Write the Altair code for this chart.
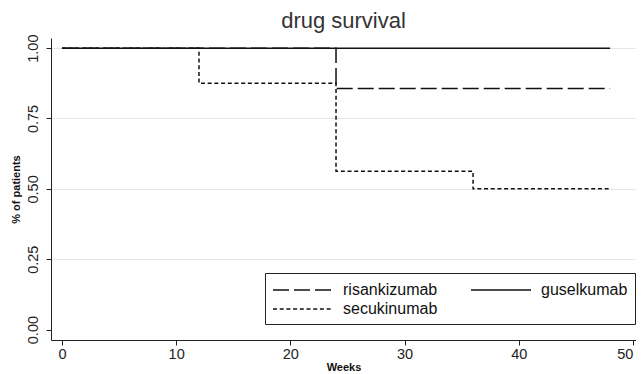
import altair as alt
import pandas as pd

# legend/entry order (column-major fill: col 1 = risankizumab, secukinumab; col 2 = guselkumab)
drug_order = ["risankizumab", "secukinumab", "guselkumab"]
dash_styles = [[16, 5], [4, 2.7], [1, 0]]

risankizumab_weeks = [0, 24, 48]
risankizumab_surv = [1.0, 0.857, 0.857]
guselkumab_weeks = [0, 48]
guselkumab_surv = [1.0, 1.0]
secukinumab_weeks = [0, 12, 24, 36, 48]
secukinumab_surv = [1.0, 0.875, 0.5625, 0.5, 0.5]

x_ticks = [0, 10, 20, 30, 40, 50]
y_ticks = [0, 0.25, 0.5, 0.75, 1.0]

rows = []
for name, wk, sv in [
    ("risankizumab", risankizumab_weeks, risankizumab_surv),
    ("guselkumab", guselkumab_weeks, guselkumab_surv),
    ("secukinumab", secukinumab_weeks, secukinumab_surv),
]:
    for w, s in zip(wk, sv):
        rows.append({"drug": name, "week": w, "surv": s})
df = pd.DataFrame(rows)

FONT = "Liberation Sans"

chart = alt.Chart(df).mark_line(
    interpolate="step-after", color="#111111", strokeWidth=1.5
).encode(
    x=alt.X("week:Q",
            scale=alt.Scale(domain=[-0.96, 50.27], nice=False, zero=False),
            axis=alt.Axis(values=x_ticks, title="Weeks", grid=False,
                          titleFontWeight="bold", titleFontSize=11,
                          titlePadding=1,
                          labelAlign={"condition": {"test": "datum.value === 50",
                                                    "value": "right"},
                                      "value": "center"})),
    y=alt.Y("surv:Q",
            scale=alt.Scale(domain=[-0.037, 1.036], nice=False, zero=False),
            axis=alt.Axis(values=y_ticks, format=".2f", title="% of patients",
                          titleFontWeight="bold", titleFontSize=11,
                          labelAngle=270, labelAlign="center",
                          labelBaseline="bottom", labelPadding=6,
                          titlePadding=4,
                          gridColor={"condition": {"test": "datum.value === 0",
                                                   "value": "transparent"},
                                     "value": "#e6e6e6"})),
    strokeDash=alt.StrokeDash(
        "drug:N",
        scale=alt.Scale(domain=drug_order, range=dash_styles),
        legend=alt.Legend(title=None, orient="none", legendX=214, legendY=235,
                          columns=2, symbolType="M-1,0H5.667", symbolSize=324,
                          symbolStrokeWidth=1.5, symbolStrokeColor="#111111",
                          labelFontSize=16, labelFont=FONT, labelColor="#111111",
                          labelOffset=51, padding=7, columnPadding=30,
                          rowPadding=1, fillColor="white", strokeColor="#222222"),
    ),
).properties(
    width=585,
    height=302,
    title=alt.TitleParams("drug survival", fontSize=22, font=FONT,
                          fontWeight="normal", color="#333333",
                          anchor="middle", offset=1),
    autosize=alt.AutoSizeParams(type="none"),
    padding={"left": 43, "top": 30, "right": 0, "bottom": 36},
).configure_axis(
    domainColor="#222222", domainWidth=1, tickColor="#222222", tickSize=5,
    labelFont=FONT, labelFontSize=14.5, labelColor="#222222",
    titleFont=FONT, titleColor="#111111",
).configure_view(stroke=None)

chart.save("out.html", embed_options={"renderer": "svg", "actions": False})
